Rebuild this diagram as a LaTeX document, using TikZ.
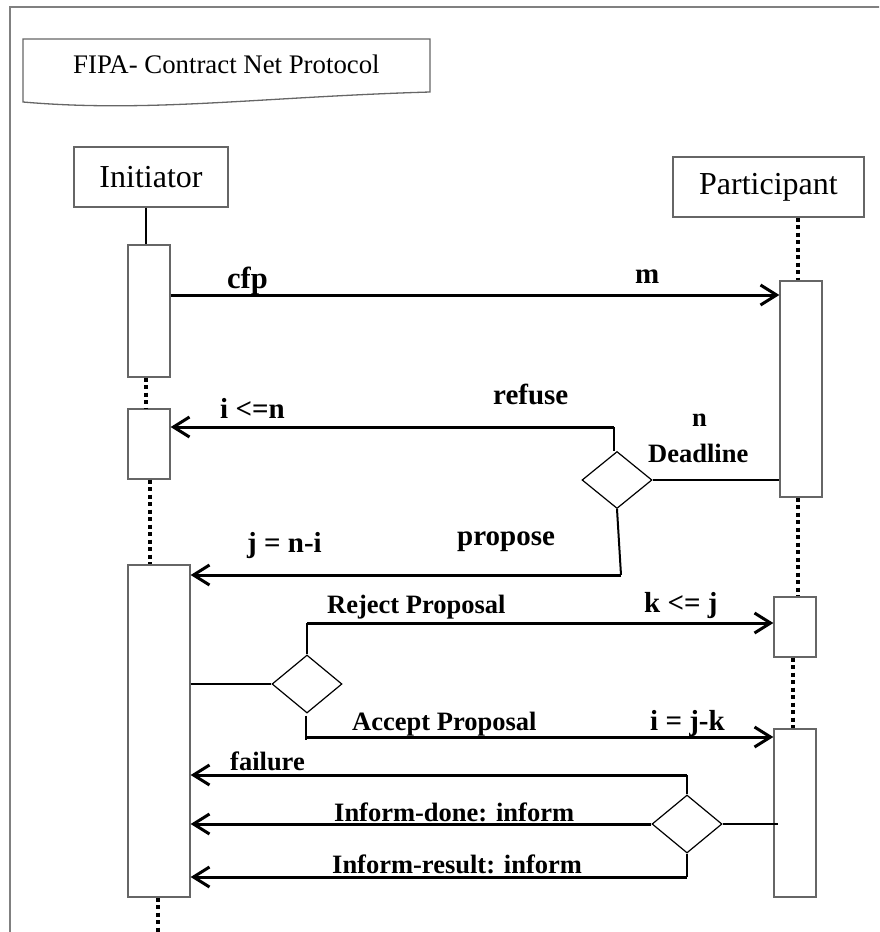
\documentclass[tikz,border=0pt]{standalone}
\usepackage{fontspec}
\setmainfont{Liberation Serif}
\usetikzlibrary{arrows.meta,shapes.geometric}

\begin{document}
\begin{tikzpicture}[x=1pt,y=-1pt,
  frame/.style={draw=black!50, line width=1.5pt},
  head/.style={draw=black!60, line width=1.3pt, fill=white, inner sep=0pt,
    minimum height=60pt, font=\fontsize{32}{36}\selectfont},
  act/.style={draw=black!60, line width=1.3pt, fill=white, inner sep=0pt},
  choice/.style={diamond, draw=black, line width=1.2pt, fill=white, inner sep=0pt,
    minimum width=70pt, minimum height=57pt},
  msg/.style={line width=3pt, -{Straight Barb[length=16pt,width=20pt]}},
  link/.style={line width=2pt},
  life/.style={line width=4pt, dash pattern=on 4pt off 3.5pt},
  lblA/.style={font=\bfseries\fontsize{29}{32}\selectfont, inner sep=0pt, anchor=base west},
  lblB/.style={font=\bfseries\fontsize{26.5}{30}\selectfont, inner sep=0pt, anchor=base west},
]
\useasboundingbox (0,0) rectangle (879,932);
\clip (0,0) rectangle (879,932);

% outer frame
\draw[frame] (10,7) rectangle (900,960);

% title note
\draw[draw=black!60, line width=1.3pt]
  (23,39) -- (430,39) -- (430,92) .. controls (260,97) and (150,113) .. (23,102) -- cycle;
\node[font=\fontsize{26.8}{30}\selectfont, inner sep=0pt, anchor=base west] (title) at (73,73)
  {FIPA- Contract Net Protocol};

% lifeline heads
\node[head, minimum width=154pt] (init) at (151,177) {Initiator};
\node[head, minimum width=191pt] (part) at (768.5,187) {Participant};

% activation boxes, initiator
\node[act, minimum width=42pt, minimum height=132pt] (a1) at (149,311) {};
\node[act, minimum width=42pt, minimum height=70pt]  (a2) at (149,444) {};
\node[act, minimum width=62pt, minimum height=332pt] (a3) at (159,731) {};
% activation boxes, participant
\node[act, minimum width=42pt, minimum height=216pt] (p1) at (801,389) {};
\node[act, minimum width=42pt, minimum height=60pt]  (p2) at (795,627) {};
\node[act, minimum width=42pt, minimum height=168pt] (p3) at (795,813) {};

% lifelines
\coordinate (xi1) at (146,0);
\coordinate (xi2) at (150,0);
\coordinate (iend) at (158,940);
\coordinate (xp1) at (798,0);
\coordinate (xp2) at (793,0);
\draw[link] (xi1 |- init.south) -- (xi1 |- a1.north);
\draw[life] (xi1 |- a1.south) -- (xi1 |- a2.north);
\draw[life] (xi2 |- a2.south) -- (xi2 |- a3.north);
\draw[life] (iend |- a3.south) -- (iend);
\draw[life] (xp1 |- part.south) -- (xp1 |- p1.north);
\draw[life] (xp1 |- p1.south) -- (xp1 |- p2.north);
\draw[life] (xp2 |- p2.south) -- (xp2 |- p3.north);

% decision points
\node[choice] (d1) at (617,480) {};
\node[choice, minimum height=58pt] (d2) at (307,684) {};
\node[choice, minimum height=58pt] (d3) at (687,824) {};

% message levels
\coordinate (ycfp) at (0,295);
\coordinate (yref) at (614,427);
\coordinate (prop) at (621,575);
\coordinate (yrej) at (0,623);
\coordinate (yacc) at (306,737);
\coordinate (yfail) at (0,775);
\coordinate (yres) at (0,877);

% cfp
\draw[msg] (a1.east |- ycfp) -- (p1.west |- ycfp);
% deadline and refuse / propose
\draw[link] (d1.east) -- (p1.west |- d1.east);
\draw[link] (d1.north -| yref) -- (yref);
\draw[msg] (yref) -- (a2.east |- yref);
\draw[link] (d1.south) -- (prop);
\draw[msg] (prop) -- (a3.east |- prop);
% reject / accept
\draw[link] (a3.east |- d2.west) -- (d2.west);
\draw[link] (d2.north) -- (d2.north |- yrej);
\draw[msg] (d2.north |- yrej) -- (p2.west |- yrej);
\draw[link] ([yshift=-2pt]d2.south -| yacc) -- ([yshift=-3pt]yacc);
\draw[msg] (yacc) -- (p3.west |- yacc);
% failure / inform
\draw[link] (d3.east) -- ([xshift=5pt]p3.west |- d3.east);
\draw[link] (d3.north) -- (d3.north |- yfail);
\draw[msg] (d3.north |- yfail) -- (a3.east |- yfail);
\draw[msg] (d3.west) -- (a3.east |- d3.west);
\draw[link] (d3.south) -- (d3.south |- yres);
\draw[msg] (d3.south |- yres) -- (a3.east |- yres);

% labels
\node[lblA, font=\bfseries\fontsize{30.5}{34}\selectfont] (lcfp) at (227,288) {cfp};
\node[lblA] (lm) at (635,283) {m};
\node[lblA] (lin) at (220,418) {i <=n};
\node[lblA] (lref) at (493,404) {refuse};
\node[lblB] (ln) at (692,426) {n};
\node[lblB] (ldead) at (648,462) {Deadline};
\node[lblA] (ljn) at (247,552) {j = n-i};
\node[lblA] (lprop) at (457,545) {propose};
\node[lblB] (lrej) at (327,613) {Reject Proposal};
\node[lblA] (lkj) at (644,612) {k <= j};
\node[lblB] (lacc) at (352,730) {Accept Proposal};
\node[lblA] (lijk) at (650,730) {i = j-k};
\node[lblB] (lfail) at (230,770) {failure};
\node[lblB] (ldone) at (334,821) {Inform-done: inform};
\node[lblB] (lres) at (332,873) {Inform-result: inform};
\end{tikzpicture}
\end{document}
